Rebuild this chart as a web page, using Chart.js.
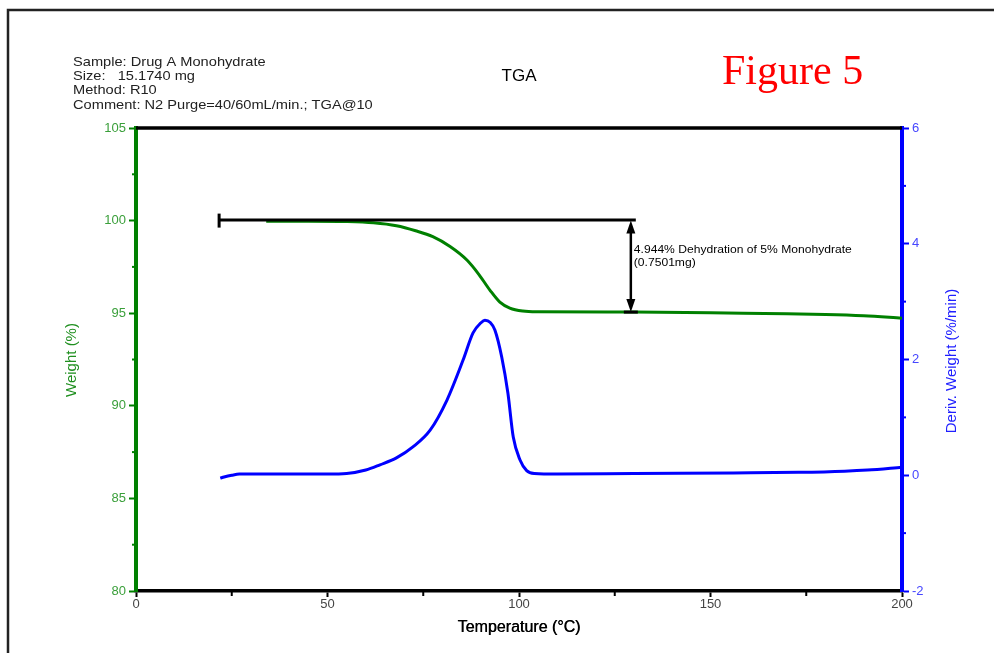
<!DOCTYPE html>
<html>
<head>
<meta charset="utf-8">
<title>TGA - Figure 5</title>
<script src="https://cdn.jsdelivr.net/npm/chart.js@4.4.1/dist/chart.umd.min.js"></script>
<style>
  html, body { margin: 0; padding: 0; background: #fff; }
  #wrap { width: 994px; height: 653px; position: relative; }
</style>
</head>
<body>
<div id="wrap"><canvas id="tga" width="994" height="653"></canvas></div>
<script>
// weight curve (green, left axis)
const weightTemps = [34, 45, 55, 62, 68, 73, 77.5, 82, 86.4, 89.5, 92.4, 95, 97.6, 101, 105, 130, 150, 164, 180, 190, 200]
const weightPct = [99.97, 99.97, 99.95, 99.88, 99.72, 99.45, 99.13, 98.6, 97.87, 97.1, 96.25, 95.6, 95.28, 95.12, 95.08, 95.06, 95.03, 94.98, 94.93, 94.86, 94.73]

// derivative curve (blue, right axis)
const derivTemps = [22, 23, 25, 27, 40, 50, 55, 60, 63.7, 68, 72.3, 76.8, 81.2, 85.4, 88, 90, 91.1, 92.5, 93.7, 95.5, 97.1, 98.5, 100.3, 102, 104, 110, 130, 156, 173, 185, 191, 200]
const derivVals = [-0.05, -0.03, 0.0, 0.02, 0.02, 0.02, 0.03, 0.09, 0.18, 0.3, 0.49, 0.78, 1.3, 1.99, 2.46, 2.63, 2.68, 2.64, 2.51, 2.04, 1.42, 0.66, 0.26, 0.08, 0.03, 0.02, 0.03, 0.04, 0.05, 0.07, 0.09, 0.14]

// axes
const xTicks = [0, 50, 100, 150, 200]
const xMinor = [25, 75, 125, 175]
const weightTicks = [80, 85, 90, 95, 100, 105]
const weightMinor = [82.5, 87.5, 92.5, 97.5, 102.5]
const derivTicks = [-2, 0, 2, 4, 6]
const derivMinor = [-1, 1, 3, 5]

// step annotation
const stepLine = [21.7, 130.5]     // temperature span of the 100% line
const stepArrowT = 129.2
const stepLevels = [100, 95.06]
const stepText = ['4.944% Dehydration of 5% Monohydrate', '(0.7501mg)']

const header = ['Sample: Drug A Monohydrate', 'Size:   15.1740 mg', 'Method: R10', 'Comment: N2 Purge=40/60mL/min.; TGA@10']

const SANS = '"Liberation Sans", Arial, sans-serif'
const GREEN = '#008000'
const BLUE = '#0000ff'

const toPts = (xs, ys) => xs.map((x, i) => ({ x, y: ys[i] }))

// the original print uses a slightly wide sans, so stretch horizontally
function wideText(ctx, text, x, y, sx) {
  ctx.save()
  ctx.translate(x, y)
  ctx.scale(sx, 1)
  ctx.fillText(text, 0, 0)
  ctx.restore()
}

const decor = {
  id: 'decor',
  afterDraw(chart) {
    const { ctx, chartArea: a, scales } = chart
    const sx = scales.x, sy = scales.y, sy2 = scales.y2
    ctx.save()

    // page frame
    ctx.strokeStyle = '#222'
    ctx.lineWidth = 2.5
    ctx.strokeRect(8, 10, 1200, 1000)

    // top frame line of plot
    ctx.strokeStyle = '#000'
    ctx.lineWidth = 3.5
    ctx.beginPath()
    ctx.moveTo(a.left, a.top)
    ctx.lineTo(a.right, a.top)
    ctx.stroke()

    // minor ticks
    ctx.lineWidth = 2
    ctx.strokeStyle = GREEN
    weightMinor.forEach(v => {
      const y = sy.getPixelForValue(v)
      ctx.beginPath(); ctx.moveTo(a.left - 4, y); ctx.lineTo(a.left, y); ctx.stroke()
    })
    ctx.strokeStyle = BLUE
    derivMinor.forEach(v => {
      const y = sy2.getPixelForValue(v)
      ctx.beginPath(); ctx.moveTo(a.right, y); ctx.lineTo(a.right + 4, y); ctx.stroke()
    })
    ctx.strokeStyle = '#000'
    xMinor.forEach(v => {
      const x = sx.getPixelForValue(v)
      ctx.beginPath(); ctx.moveTo(x, a.bottom); ctx.lineTo(x, a.bottom + 5); ctx.stroke()
    })

    // step annotation
    const y100 = sy.getPixelForValue(stepLevels[0])
    const yLow = sy.getPixelForValue(stepLevels[1])
    const x0 = sx.getPixelForValue(stepLine[0])
    const x1 = sx.getPixelForValue(stepLine[1])
    const xa = sx.getPixelForValue(stepArrowT)
    ctx.strokeStyle = '#000'
    ctx.fillStyle = '#000'
    ctx.lineWidth = 3
    ctx.beginPath(); ctx.moveTo(x0, y100 - 0.5); ctx.lineTo(x1, y100 - 0.5); ctx.stroke()
    ctx.beginPath(); ctx.moveTo(x0, y100 - 7); ctx.lineTo(x0, y100 + 7); ctx.stroke()
    ctx.beginPath(); ctx.moveTo(xa - 7, yLow); ctx.lineTo(xa + 7, yLow); ctx.stroke()
    ctx.lineWidth = 2.5
    ctx.beginPath(); ctx.moveTo(xa, y100 + 8); ctx.lineTo(xa, yLow - 8); ctx.stroke()
    ctx.beginPath(); ctx.moveTo(xa, y100); ctx.lineTo(xa - 4.5, y100 + 13); ctx.lineTo(xa + 4.5, y100 + 13); ctx.closePath(); ctx.fill()
    ctx.beginPath(); ctx.moveTo(xa, yLow); ctx.lineTo(xa - 4.5, yLow - 13); ctx.lineTo(xa + 4.5, yLow - 13); ctx.closePath(); ctx.fill()
    ctx.font = '11px ' + SANS
    ctx.textAlign = 'left'
    ctx.textBaseline = 'alphabetic'
    wideText(ctx, stepText[0], xa + 3, 253, 1.1)
    wideText(ctx, stepText[1], xa + 3, 266, 1.1)

    // header block
    ctx.fillStyle = '#222'
    ctx.font = '13px ' + SANS
    header.forEach((t, i) => wideText(ctx, t, 73, 65.5 + i * 14.4, 1.125))

    // title
    ctx.fillStyle = '#000'
    ctx.font = '17px ' + SANS
    ctx.textAlign = 'center'
    ctx.fillText('TGA', 519, 81)

    ctx.fillStyle = '#ff0000'
    ctx.font = '42px "Liberation Serif", "Times New Roman", serif'
    ctx.textAlign = 'left'
    ctx.fillText('Figure 5', 722, 84)

    // axis titles
    ctx.fillStyle = '#000'
    ctx.font = '16px ' + SANS
    ctx.textAlign = 'center'
    ctx.textBaseline = 'middle'
    ctx.fillText('Temperature (°C)', 519, 628)
    ctx.fillText('Temperature (°C)', 519.4, 628)

    ctx.save()
    ctx.translate(72, 360)
    ctx.rotate(-Math.PI / 2)
    ctx.fillStyle = '#1f8f1f'
    ctx.font = '15px ' + SANS
    ctx.fillText('Weight (%)', 0, 0)
    ctx.restore()

    ctx.save()
    ctx.translate(952, 361)
    ctx.rotate(-Math.PI / 2)
    ctx.fillStyle = '#2020ff'
    ctx.font = '15px ' + SANS
    ctx.fillText('Deriv. Weight (%/min)', 0, 0)
    ctx.restore()

    ctx.restore()
  }
}

new Chart(document.getElementById('tga'), {
  type: 'line',
  data: {
    datasets: [
      {
        label: 'Weight (%)',
        data: toPts(weightTemps, weightPct),
        yAxisID: 'y',
        borderColor: GREEN,
        borderWidth: 3,
        pointRadius: 0,
        cubicInterpolationMode: 'monotone',
      },
      {
        label: 'Deriv. Weight (%/min)',
        data: toPts(derivTemps, derivVals),
        yAxisID: 'y2',
        borderColor: BLUE,
        borderWidth: 3,
        pointRadius: 0,
        cubicInterpolationMode: 'monotone',
      },
    ]
  },
  options: {
    responsive: false,
    animation: false,
    devicePixelRatio: 1,
    layout: { padding: { top: 128, left: 0, right: 0, bottom: 0 } },
    plugins: { legend: { display: false }, tooltip: { enabled: false } },
    scales: {
      x: {
        type: 'linear',
        min: 0,
        max: 200,
        afterFit: s => { s.height = 62 },
        afterBuildTicks: s => { s.ticks = xTicks.map(value => ({ value })) },
        ticks: { color: '#444', font: { size: 13, family: SANS }, padding: 0, maxRotation: 0, autoSkip: false },
        grid: { drawOnChartArea: false, tickLength: 6, color: '#000', tickWidth: 2 },
        border: { color: '#000', width: 3.5 },
      },
      y: {
        position: 'left',
        min: 80,
        max: 105,
        afterFit: s => { s.width = 136 },
        afterBuildTicks: s => { s.ticks = weightTicks.map(value => ({ value })) },
        ticks: { color: '#3a9f3a', font: { size: 13, family: SANS }, padding: 3 },
        grid: { drawOnChartArea: false, tickLength: 7, color: GREEN, tickWidth: 2 },
        border: { color: GREEN, width: 4 },
      },
      y2: {
        position: 'right',
        min: -2,
        max: 6,
        afterFit: s => { s.width = 92 },
        afterBuildTicks: s => { s.ticks = derivTicks.map(value => ({ value })) },
        ticks: { color: '#4646ff', font: { size: 13, family: SANS }, padding: 3 },
        grid: { drawOnChartArea: false, tickLength: 7, color: BLUE, tickWidth: 2 },
        border: { color: BLUE, width: 4 },
      },
    }
  },
  plugins: [decor]
})
</script>
</body>
</html>
